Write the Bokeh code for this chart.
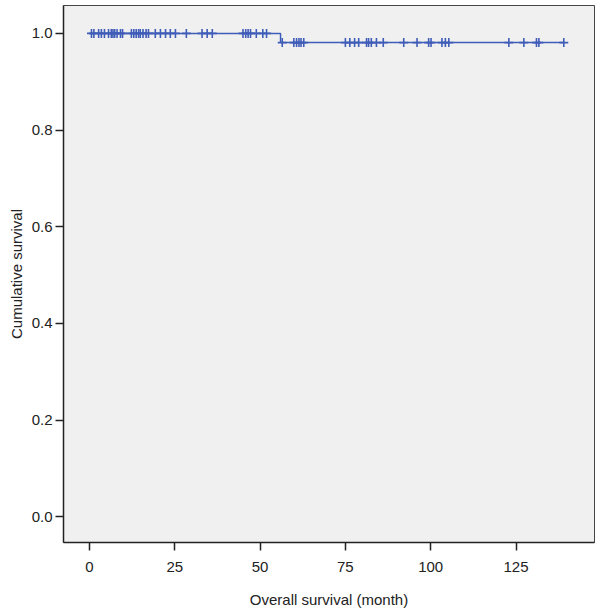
from bokeh.plotting import figure
from bokeh.models import Range1d, FixedTicker, PrintfTickFormatter, ColumnDataSource
from bokeh.embed import file_html
from bokeh.resources import INLINE

# Kaplan-Meier step curve
step_times = [0, 56, 139]
step_surv = [1.0, 0.981, 0.981]

# censored observations (months)
censor_before = [0.6, 1.3, 2.7, 3.5, 4.4, 5.6, 6.4, 6.9, 7.4, 8.1, 9.1, 9.7,
                 12.3, 13.0, 13.7, 14.4, 14.9, 15.7, 16.6, 17.3, 19.3, 20.8,
                 22.3, 23.7, 25.2, 28.4, 33.0, 34.5, 36.0, 45.0, 45.8, 46.5,
                 47.2, 48.9, 50.8, 51.9]
censor_after = [56.5, 59.9, 60.7, 61.4, 62.0, 62.8, 75.0, 76.3, 77.7, 78.9,
                81.2, 81.8, 82.6, 84.1, 86.1, 92.1, 96.0, 99.4, 100.1, 103.3,
                104.3, 105.3, 122.9, 127.3, 131.0, 131.7, 139.0]

x_ticks = [0, 25, 50, 75, 100, 125]
y_ticks = [0.0, 0.2, 0.4, 0.6, 0.8, 1.0]

def surv_at(t):
    s = step_surv[0]
    for tt, ss in zip(step_times, step_surv):
        if t >= tt:
            s = ss
    return s

cens_t = censor_before + censor_after
cens_s = [surv_at(t) for t in cens_t]

FONT = "Liberation Sans"
BLUE = "#3f5cb8"
TXT = "#222222"

p = figure(width=598, height=610, output_backend="svg", toolbar_location=None,
           x_range=Range1d(-7.6, 148.0), y_range=Range1d(-0.053, 1.0577),
           min_border_left=63, min_border_right=4, min_border_top=5,
           min_border_bottom=62)

p.background_fill_color = "#f0f0f0"
p.border_fill_color = "white"
p.outline_line_color = "#444444"
p.outline_line_width = 1
p.xgrid.visible = False
p.ygrid.visible = False

p.step(step_times, step_surv, mode="after", line_color=BLUE, line_width=1.5)
src = ColumnDataSource(dict(t=cens_t, s=cens_s))
p.scatter("t", "s", source=src, marker="cross", size=9, line_color=BLUE,
          line_width=1.6)

for ax in (p.xaxis[0], p.yaxis[0]):
    ax.axis_line_color = "#222222"
    ax.axis_line_width = 1.5
    ax.major_tick_line_color = "#222222"
    ax.major_tick_line_width = 1.5
    ax.major_tick_out = 8
    ax.major_tick_in = 0
    ax.minor_tick_out = 0
    ax.minor_tick_in = 0
    ax.major_label_text_font = FONT
    ax.major_label_text_font_size = "15px"
    ax.major_label_text_color = TXT
    ax.axis_label_text_font = FONT
    ax.axis_label_text_font_size = "15px"
    ax.axis_label_text_font_style = "normal"
    ax.axis_label_text_color = TXT

p.xaxis.ticker = FixedTicker(ticks=x_ticks)
p.yaxis.ticker = FixedTicker(ticks=y_ticks)
p.yaxis.formatter = PrintfTickFormatter(format="%.1f")
p.xaxis.axis_label = "Overall survival (month)"
p.yaxis.axis_label = "Cumulative survival"
p.xaxis.major_label_standoff = 11
p.yaxis.major_label_standoff = 3
p.xaxis.axis_label_standoff = 16
p.yaxis.axis_label_standoff = 4

open("out.html", "w").write(file_html(p, INLINE))
